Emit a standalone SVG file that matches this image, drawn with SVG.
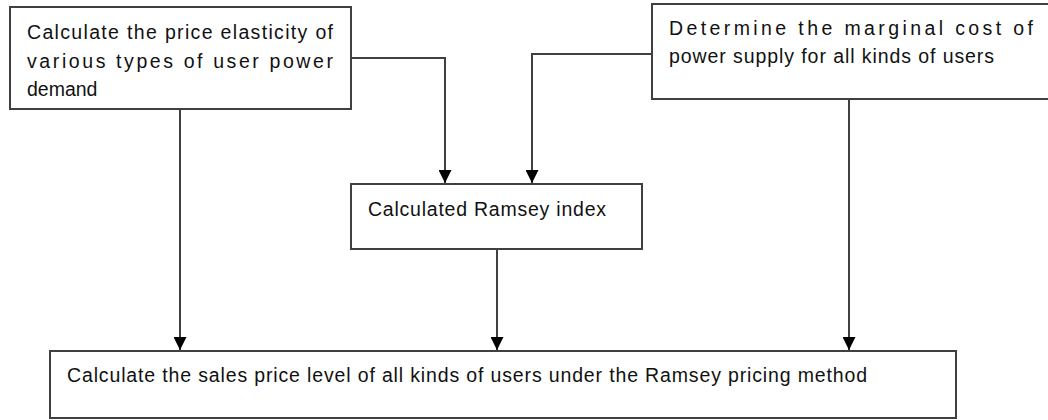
<svg xmlns="http://www.w3.org/2000/svg" width="1048" height="420" viewBox="0 0 1048 420">
<style>
.box{fill:#fff;stroke:#404040;stroke-width:2}
.t{font-family:"Liberation Sans",Arial,sans-serif;font-size:19.5px;fill:#111}
.c{fill:none;stroke:#404040;stroke-width:2}
</style>
<defs>
<marker id="ah" markerWidth="14" markerHeight="13" refX="13" refY="6.5" orient="auto" markerUnits="userSpaceOnUse" viewBox="0 0 14 13">
<path d="M0,0 L13,6.5 L0,13 Z" fill="#000"/>
</marker>
</defs>
<rect width="1048" height="420" fill="#fff"/>
<g id="connectors">
<polyline class="c" points="351,58 445,58 445,183" marker-end="url(#ah)"/>
<polyline class="c" points="652,54 532,54 532,183" marker-end="url(#ah)"/>
<line class="c" x1="180" y1="109" x2="180" y2="350" marker-end="url(#ah)"/>
<line class="c" x1="497" y1="249" x2="497" y2="350" marker-end="url(#ah)"/>
<line class="c" x1="849" y1="99" x2="849" y2="350" marker-end="url(#ah)"/>
</g>
<g id="node1">
<rect class="box" x="10" y="7" width="341" height="102"/>
<text class="t" x="27" y="39" textLength="306" lengthAdjust="spacing">Calculate the price elasticity of</text>
<text class="t" x="27" y="68" textLength="306" lengthAdjust="spacing">various types of user power</text>
<text class="t" x="27" y="96">demand</text>
</g>
<g id="node2">
<rect class="box" x="652" y="4" width="410" height="95"/>
<text class="t" x="669" y="35" textLength="364" lengthAdjust="spacing">Determine the marginal cost of</text>
<text class="t" x="669" y="63" textLength="325" lengthAdjust="spacing">power supply for all kinds of users</text>
</g>
<g id="node3">
<rect class="box" x="351" y="184" width="291" height="65"/>
<text class="t" x="368" y="216" textLength="238" lengthAdjust="spacing">Calculated Ramsey index</text>
</g>
<g id="node4">
<rect class="box" x="50" y="351" width="906" height="67"/>
<text class="t" x="67" y="382" textLength="800" lengthAdjust="spacing">Calculate the sales price level of all kinds of users under the Ramsey pricing method</text>
</g>
</svg>
